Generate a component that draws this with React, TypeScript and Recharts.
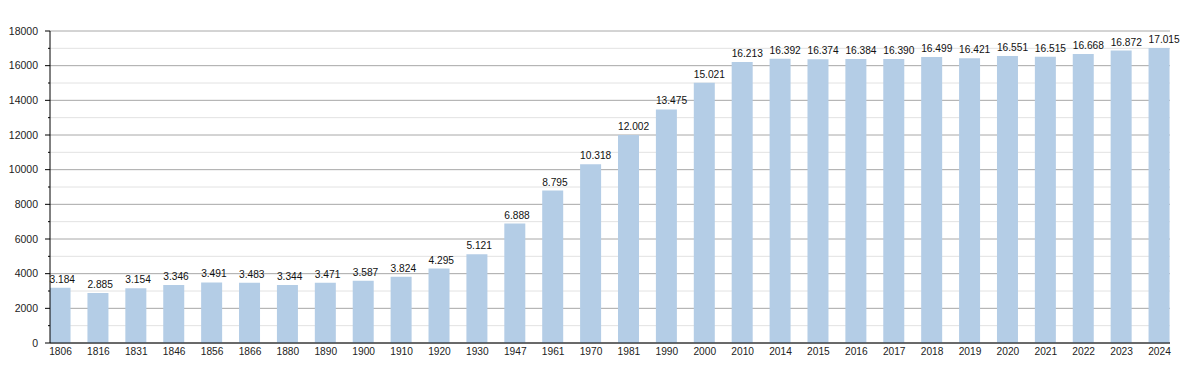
import { BarChart, Bar, XAxis, YAxis, CartesianGrid, LabelList } from "recharts";

document.body.style.margin = "0";

const years = [
  "1806", "1816", "1831", "1846", "1856", "1866", "1880", "1890", "1900", "1910",
  "1920", "1930", "1947", "1961", "1970", "1981", "1990", "2000", "2010", "2014",
  "2015", "2016", "2017", "2018", "2019", "2020", "2021", "2022", "2023", "2024",
];

const population = [
  3184, 2885, 3154, 3346, 3491, 3483, 3344, 3471, 3587, 3824,
  4295, 5121, 6888, 8795, 10318, 12002, 13475, 15021, 16213, 16392,
  16374, 16384, 16390, 16499, 16421, 16551, 16515, 16668, 16872, 17015,
];

const yTicks = [0, 1000, 2000, 3000, 4000, 5000, 6000, 7000, 8000, 9000, 10000,
  11000, 12000, 13000, 14000, 15000, 16000, 17000, 18000];
const majorTicks = yTicks.filter((v) => v % 2000 === 0);
const minorTicks = yTicks.filter((v) => v % 2000 !== 0);

const data = years.map((year, idx) => ({ idx, year, value: population[idx] }));
const indices = data.map((d) => d.idx);

const fmt = (v: number) => v.toLocaleString("de-DE");

const font = "'Liberation Sans', Arial, sans-serif";

function YTick(props: any) {
  const { x, y, payload } = props;
  const major = payload.value % 2000 === 0;
  return (
    <g>
      <line x1={major ? x + 7 : x + 10} x2={x + 12} y1={y} y2={y} stroke="#000" />
      {major && (
        <text x={x} y={y} dy="0.35em" textAnchor="end" fontSize={10.5} fill="#222" fontFamily={font}>
          {payload.value}
        </text>
      )}
    </g>
  );
}

// labels sit left-aligned on the bar's left edge
function ValueLabel(props: any) {
  const { x, y, value } = props;
  return (
    <text x={x} y={y - 5} textAnchor="start" fontSize={10.2} fill="#111" fontFamily={font}>
      {fmt(value)}
    </text>
  );
}

export default function App() {
  return (
    <BarChart
      width={1200}
      height={373}
      data={data}
      margin={{ top: 31, right: 30, bottom: 0, left: 0 }}
    >
      <CartesianGrid vertical={false} horizontalValues={minorTicks} stroke="#e2e2e2" />
      <CartesianGrid vertical={false} horizontalValues={majorTicks} stroke="#a8a8a8" />
      <XAxis
        dataKey="idx"
        type="number"
        domain={[-0.277, 29.277]}
        ticks={indices}
        interval={0}
        allowDataOverflow
        tickFormatter={(i: number) => years[i]}
        tickLine={false}
        tickSize={0}
        tickMargin={5}
        height={30}
        axisLine={{ stroke: "#000" }}
        tick={{ fontSize: 10.2, fill: "#222", fontFamily: font }}
      />
      <YAxis
        type="number"
        domain={[0, 18000]}
        ticks={yTicks}
        interval={0}
        width={50}
        tickSize={5}
        tickMargin={7}
        tickLine={false}
        axisLine={{ stroke: "#000" }}
        tick={<YTick />}
      />
      <Bar dataKey="value" fill="#b4cde6" barSize={21} isAnimationActive={false}>
        <LabelList dataKey="value" content={<ValueLabel />} />
      </Bar>
    </BarChart>
  );
}
